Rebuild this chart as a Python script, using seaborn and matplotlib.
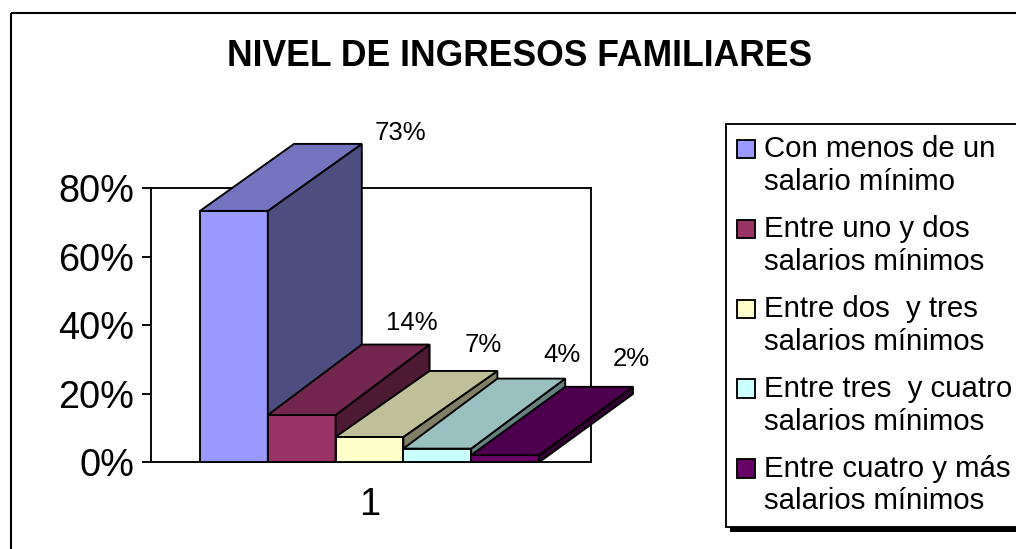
import matplotlib
matplotlib.use("Agg")
import matplotlib.pyplot as plt
import seaborn as sns
import pandas as pd
from matplotlib.patches import Rectangle, Polygon
from matplotlib.legend_handler import HandlerPatch
from matplotlib.ticker import PercentFormatter
from matplotlib.colors import to_rgb
from matplotlib.transforms import Affine2D

title = "NIVEL DE INGRESOS FAMILIARES"
grupo = ["1"]
niveles = ["Con menos de un\nsalario mínimo",
           "Entre uno y dos\nsalarios mínimos",
           "Entre dos  y tres\nsalarios mínimos",
           "Entre tres  y cuatro\nsalarios mínimos",
           "Entre cuatro y más\nsalarios mínimos"]
valores = [73.4, 13.8, 7.4, 4.0, 2.1]
etiquetas = ["73%", "14%", "7%", "4%", "2%"]
colores = ["#9999FF", "#993366", "#FFFFCC", "#CCFFFF", "#660066"]
yticks = [0, 20, 40, 60, 80]

# label offsets (pixels) from each bar's rear right top corner
label_offsets = [(39, 11), (-18, 22), (-14, 26), (-3, 24), (-2, 28)]
# oblique depth of each bar in pixels, as drawn by the original renderer
depth_y = [67, 70.5, 66, 70, 68.3]
depth_x = 94

W, H = 1016, 549
LW = 1.35
sns.set_theme(style="white")
plt.rcParams["font.family"] = ["Liberation Sans", "DejaVu Sans"]
plt.rcParams["axes.linewidth"] = LW

fig = plt.figure(figsize=(W / 100, H / 100), dpi=100, facecolor="white")
px = Affine2D().scale(1 / W, -1 / H).translate(0, 1) + fig.transFigure

# outer chart frame (runs off the right and bottom of the picture)
fig.add_artist(Rectangle((10.5, 12.5), W + 20, H + 20, transform=px, fill=False,
                         edgecolor="black", linewidth=1.5, zorder=0))

ax = fig.add_axes([150.7 / W, 1 - 462.3 / H, 440 / W, 274 / H])
df = pd.DataFrame({"grupo": grupo * len(niveles), "nivel": niveles, "pct": valores})
sns.barplot(data=df, x="grupo", y="pct", hue="nivel", hue_order=niveles, palette=colores,
            saturation=1, width=0.8, gap=0, dodge=True, edgecolor="black", linewidth=LW,
            legend=False, ax=ax)

unit = 339 / 0.8
ax.set_xlim(-(369.5 - 150.7) / unit, (590.7 - 369.5) / unit)
ax.set_ylim(0, 80)
ax.set_yticks(yticks)
ax.yaxis.set_major_formatter(PercentFormatter(decimals=0))
ax.set_xlabel("")
ax.set_ylabel("")
ax.set_facecolor("white")
for s in ax.spines.values():
    s.set_visible(True)
    s.set_color("black")
    s.set_zorder(1)
ax.tick_params(axis="y", length=6.5, width=LW, color="black", left=True, pad=5.5,
               labelsize=27.3, labelcolor="black")
ax.tick_params(axis="x", length=0, pad=18, labelsize=27.3, labelcolor="black")

# oblique depth of each bar
dx = depth_x / unit
handles = []
for i, cont in enumerate(ax.containers):
    bar = cont[0]
    handles.append(bar)
    dy = depth_y[i] / 3.425
    x0, w, h = bar.get_x(), bar.get_width(), bar.get_height()
    x1 = x0 + w
    rgb = to_rgb(colores[i])
    z = 3 + i
    bar.set_zorder(z)
    bar.set_clip_on(False)
    top = Polygon([(x0, h), (x1, h), (x1 + dx, h + dy), (x0 + dx, h + dy)], closed=True,
                  facecolor=[c * 0.75 for c in rgb], edgecolor="black", linewidth=LW,
                  zorder=z, clip_on=False)
    side = Polygon([(x1, 0), (x1, h), (x1 + dx, h + dy), (x1 + dx, dy)], closed=True,
                   facecolor=[c * 0.5 for c in rgb], edgecolor="black", linewidth=LW,
                   zorder=z, clip_on=False)
    ax.add_patch(side)
    ax.add_patch(top)
    ox, oy = label_offsets[i]
    ax.annotate(etiquetas[i], (x1 + dx, h + dy), xytext=(ox, oy), textcoords="offset pixels",
                ha="center", va="center", fontsize=18.5, color="black", zorder=20,
                annotation_clip=False)

fig.text(520 / W, 1 - 56.5 / H, title, ha="center", va="center", fontsize=25.6,
         fontweight="bold", color="black")


def first_line_patch(legend, orig_handle, xdescent, ydescent, width, height, fontsize):
    return Rectangle((-xdescent, -ydescent + 12.3), width, height)


leg = ax.legend(handles, niveles, loc="upper left", bbox_to_anchor=(725.7 / W, 1 - 124 / H),
                bbox_transform=fig.transFigure, borderaxespad=0, fontsize=21.2,
                frameon=True, fancybox=False, framealpha=1, facecolor="white",
                edgecolor="black", handlelength=0.6, handleheight=0.58, handletextpad=0.32,
                labelspacing=0.645, borderpad=0.38,
                handler_map={Rectangle: HandlerPatch(patch_func=first_line_patch)})
leg.set_zorder(30)
leg.get_frame().set_linewidth(LW)
for t in leg.get_texts():
    t.set_color("black")
    t.set_linespacing(1.22)

# legend drop shadow, sized from the drawn legend box
fig.canvas.draw()
bb = leg.get_frame().get_window_extent()
fig.add_artist(Rectangle((bb.x0 + 4.5, bb.y0 - 5.5), bb.width + 10, bb.height,
                         transform=None, facecolor="black", edgecolor="none", zorder=0))

fig.savefig("out.png", dpi=100, facecolor="white")
